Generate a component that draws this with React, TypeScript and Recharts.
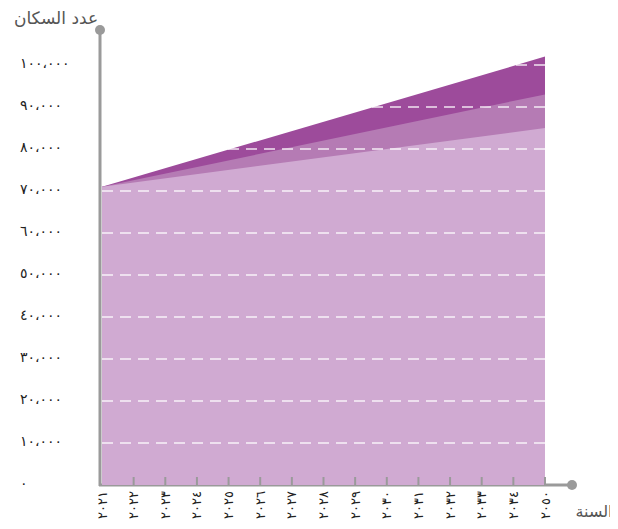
import React from 'react';
import { AreaChart, Area, XAxis, YAxis, ReferenceLine, Customized } from 'recharts';

const years = ['2021', '2022', '2023', '2024', '2025', '2026', '2027', '2028', '2029', '2030', '2031', '2032', '2033', '2034', '2050'];
const yearLabels = ['٢٠٢١', '٢٠٢٢', '٢٠٢٣', '٢٠٢٤', '٢٠٢٥', '٢٠٢٦', '٢٠٢٧', '٢٠٢٨', '٢٠٢٩', '٢٠٣٠', '٢٠٣١', '٢٠٣٢', '٢٠٣٣', '٢٠٣٤', '٢٠٥٠'];

// only the start and end are read; the chart draws straight edges between them
const highProjection = [71000, null, null, null, null, null, null, null, null, null, null, null, null, null, 102000];
const midProjection = [71000, null, null, null, null, null, null, null, null, null, null, null, null, null, 93000];
const lowProjection = [71000, null, null, null, null, null, null, null, null, null, null, null, null, null, 85000];

const yTicks = [0, 10000, 20000, 30000, 40000, 50000, 60000, 70000, 80000, 90000, 100000];
const yTickLabels = ['٠', '١٠،٠٠٠', '٢٠،٠٠٠', '٣٠،٠٠٠', '٤٠،٠٠٠', '٥٠،٠٠٠', '٦٠،٠٠٠', '٧٠،٠٠٠', '٨٠،٠٠٠', '٩٠،٠٠٠', '١٠٠،٠٠٠'];

const data = years.map((y, i) => ({
  year: y,
  high: highProjection[i],
  mid: midProjection[i],
  low: lowProjection[i],
}));

const W = 610;
const H = 521;
const AXIS = '#9a9a9a';
const FONT = '"DejaVu Sans", sans-serif';

const XTick = (props: any) => {
  const { x, y, index } = props;
  return (
    <g>
      {index > 0 && <line x1={x} y1={y} x2={x} y2={y - 8} stroke={AXIS} strokeWidth={2} />}
      <text
        x={x}
        y={y + 6}
        transform={`rotate(-90, ${x}, ${y + 6})`}
        textAnchor="end"
        dy="0.35em"
        fontSize={13}
        fill="#222"
        fontFamily={FONT}
      >
        {yearLabels[index]}
      </text>
    </g>
  );
};

const YTick = (props: any) => {
  const { y, index } = props;
  return (
    <text x={12} y={y - 2} dy="0.35em" textAnchor="start" fontSize={14} fill="#222" fontFamily={FONT}>
      {yTickLabels[index]}
    </text>
  );
};

const AxisDecor = () => (
  <g>
    <line x1={92} y1={22} x2={92} y2={478} stroke={AXIS} strokeWidth={3} />
    <line x1={91} y1={477} x2={564} y2={477} stroke={AXIS} strokeWidth={3} />
    <circle cx={92} cy={22} r={5} fill={AXIS} />
    <circle cx={564} cy={477} r={5} fill={AXIS} />
    <text x={48} y={10} dy="0.35em" textAnchor="middle" fontSize={17} fill="#555" fontFamily={FONT}>
      عدد السكان
    </text>
    <text x={586} y={503} dy="0.35em" textAnchor="middle" fontSize={16} fill="#555" fontFamily={FONT}>
      السنة
    </text>
  </g>
);

export default function App() {
  return (
    <AreaChart width={W} height={H} data={data} margin={{ top: 15, right: 73, left: 0, bottom: 0 }}>
      <XAxis
        dataKey="year"
        height={44}
        axisLine={false}
        tickLine={false}
        tickSize={0}
        tickMargin={0}
        interval={0}
        tick={<XTick />}
      />
      <YAxis
        width={94}
        domain={[0, 110000]}
        ticks={yTicks}
        axisLine={false}
        tickLine={false}
        interval={0}
        tick={<YTick />}
      />
      <Area dataKey="high" type="linear" connectNulls stroke="none" fill="#9d4b9b" fillOpacity={1} isAnimationActive={false} />
      <Area dataKey="mid" type="linear" connectNulls stroke="none" fill="#b57bb4" fillOpacity={1} isAnimationActive={false} />
      <Area dataKey="low" type="linear" connectNulls stroke="none" fill="#d0aad2" fillOpacity={1} isAnimationActive={false} />
      {yTicks.slice(1).map((t) => (
        <ReferenceLine key={t} y={t} stroke="#ffffff" strokeOpacity={0.85} strokeWidth={1.5} strokeDasharray="11 7" />
      ))}
      <Customized component={AxisDecor} />
    </AreaChart>
  );
}
